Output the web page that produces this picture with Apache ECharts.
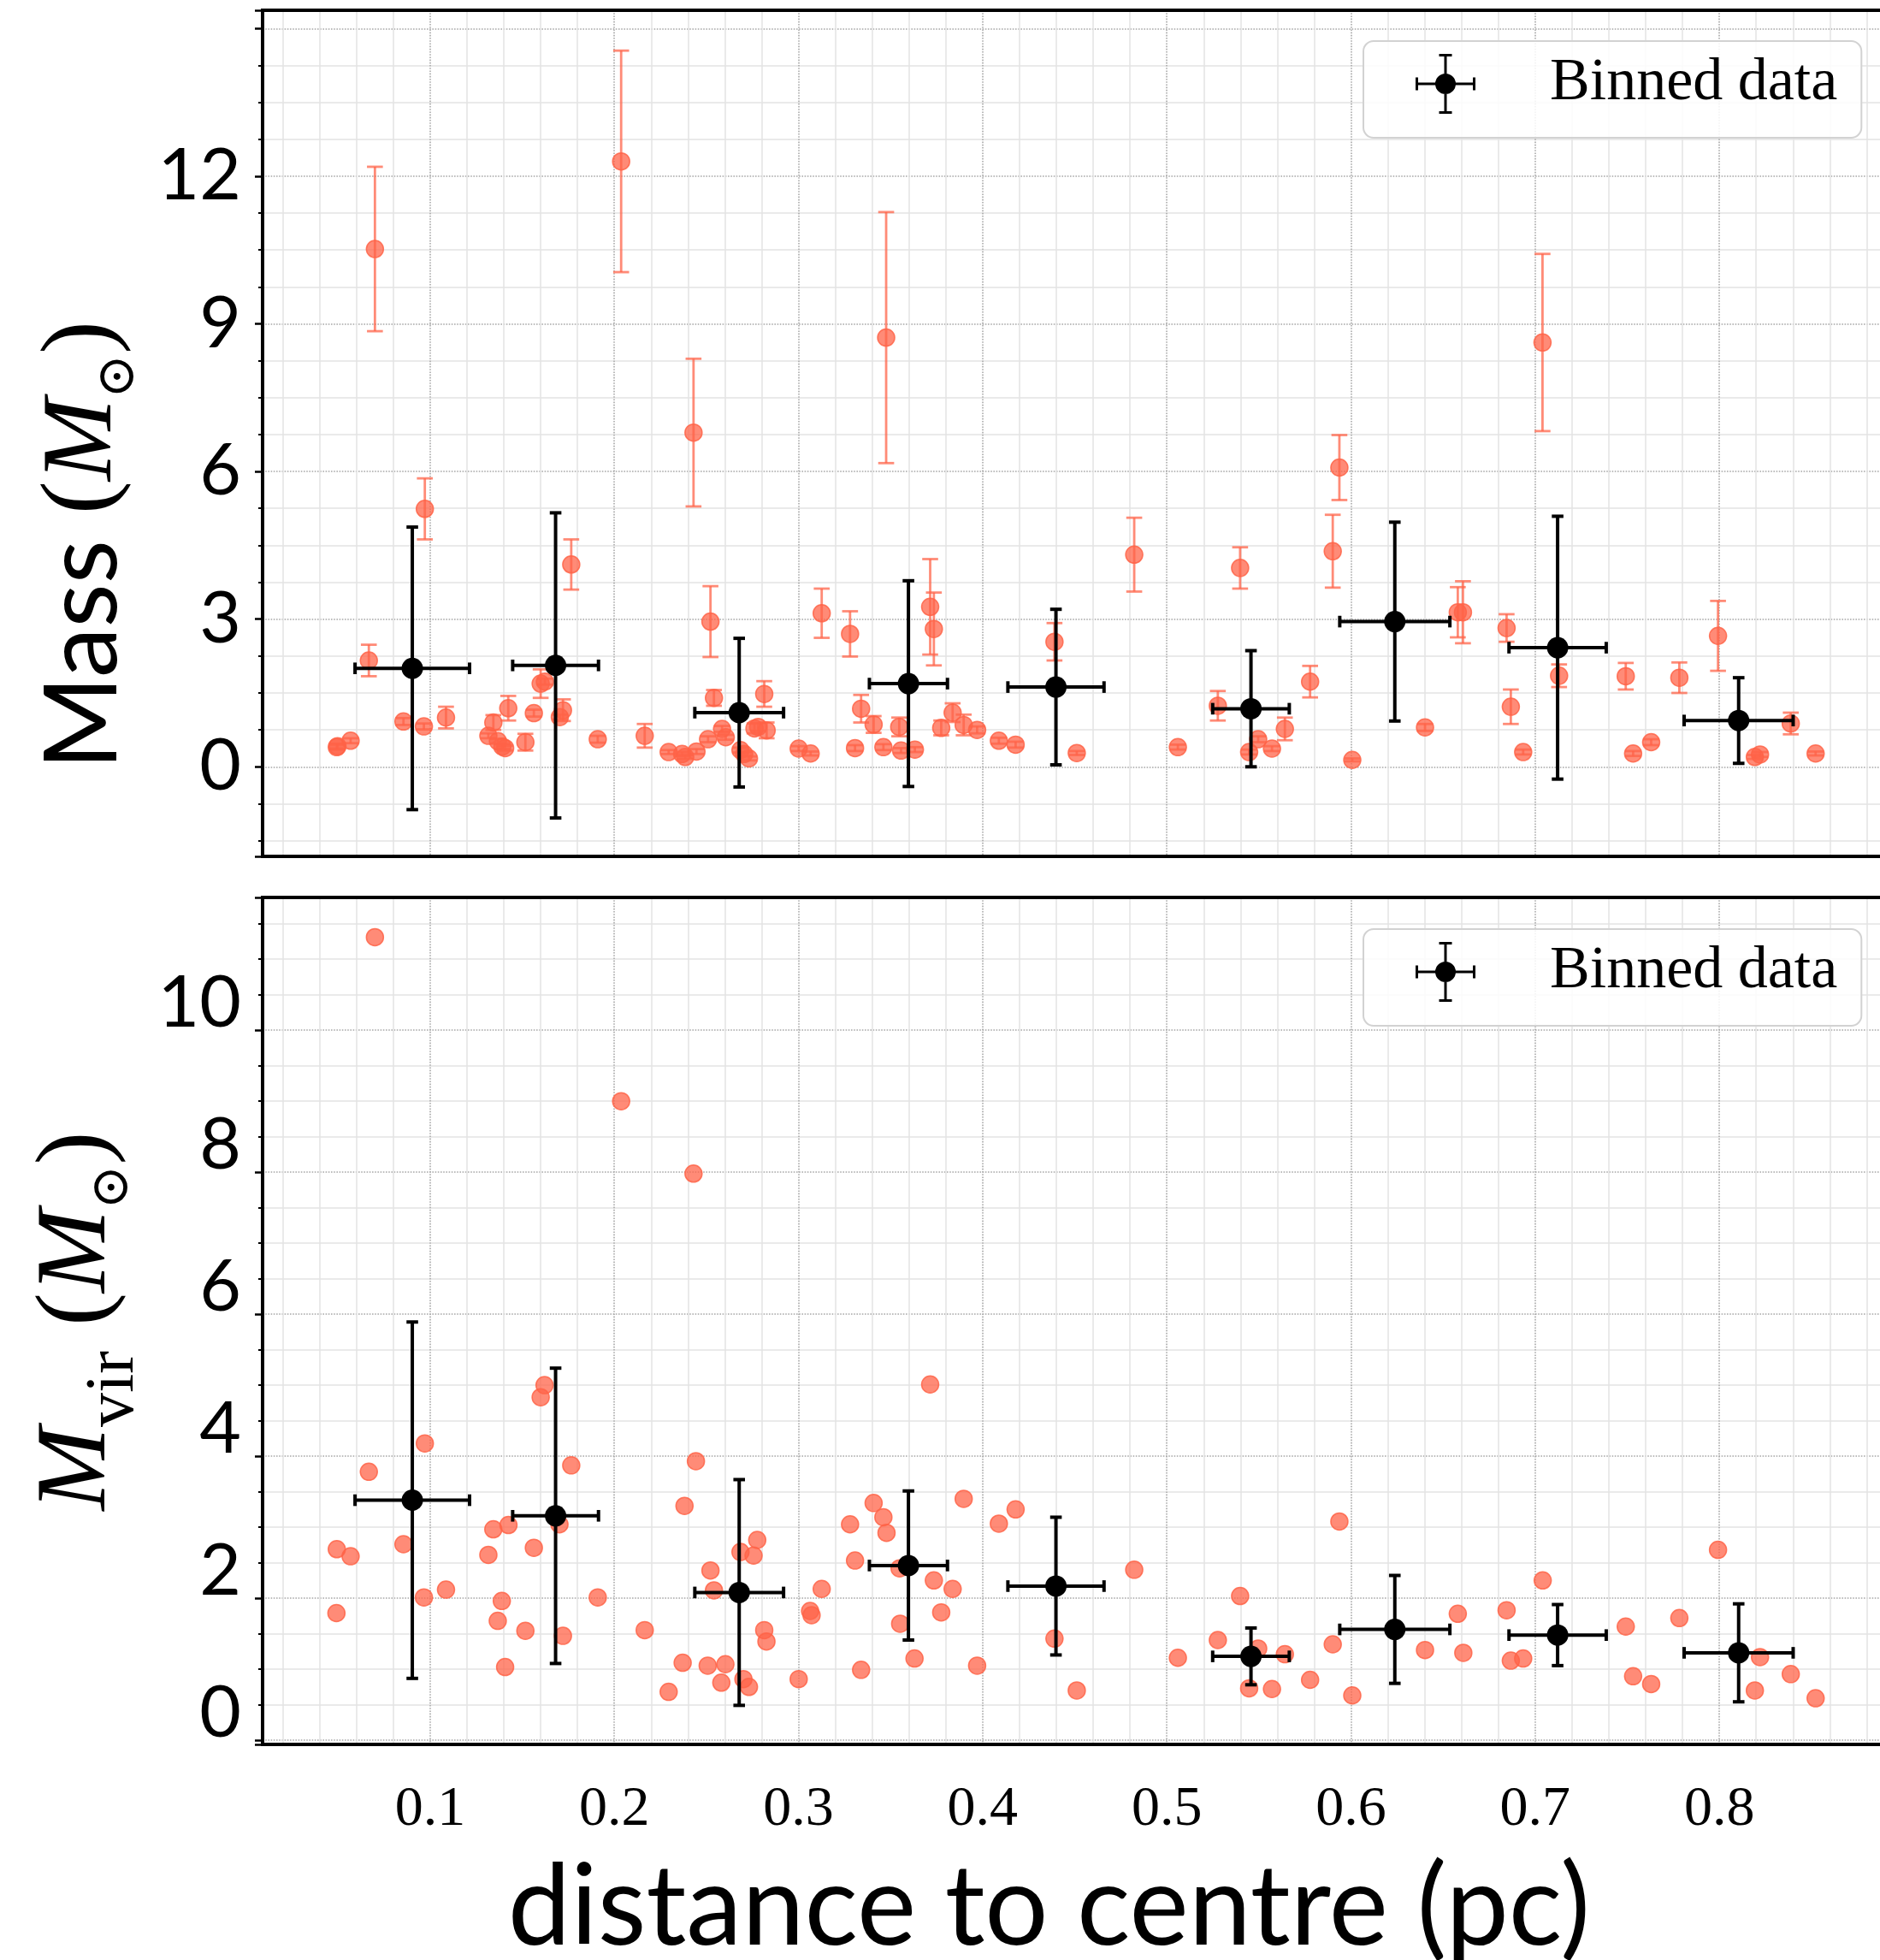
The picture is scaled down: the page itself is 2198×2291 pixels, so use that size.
<!DOCTYPE html>
<html><head><meta charset="utf-8">
<script src="https://cdn.jsdelivr.net/npm/echarts@6/dist/echarts.min.js"></script>
<style>html,body{margin:0;padding:0;background:#fff}#c{width:2198px;height:2291px}</style>
</head><body><div id="c"></div>
<script>
// ---------- data ----------
const topX = [0.0493,0.0497,0.0568,0.0667,0.0700,0.0855,0.0966,0.0971,0.1086,0.1316,
  0.1343,0.1368,0.1392,0.1407,0.1424,0.1517,0.1563,0.1600,0.1623,0.1704,
  0.1721,0.1766,0.1910,0.2037,0.2165,0.2295,0.2368,0.2385,0.2430,0.2446,
  0.2509,0.2522,0.2541,0.2585,0.2605,0.2685,0.2705,0.2731,0.2761,0.2781,
  0.2814,0.2827,0.3001,0.3066,0.3126,0.3280,0.3307,0.3340,0.3408,0.3461,
  0.3476,0.3547,0.3557,0.3632,0.3715,0.3735,0.3775,0.3837,0.3897,0.3970,
  0.4088,0.4179,0.4390,0.4511,0.4823,0.5060,0.5277,0.5398,0.5447,0.5496,
  0.5571,0.5641,0.5778,0.5901,0.5937,0.6007,0.6402,0.6580,0.6608,0.6845,
  0.6868,0.6935,0.7040,0.7130,0.7492,0.7532,0.7630,0.7783,0.7993,0.8193,
  0.8221,0.8388,0.8523];
const topMass = [0.40,0.42,0.53,2.16,10.52,0.92,0.82,5.24,1.00,0.63,
  0.90,0.52,0.41,0.38,1.19,0.50,1.09,1.69,1.73,1.01,
  1.15,4.11,0.56,12.30,0.63,0.30,0.26,0.20,6.79,0.31,
  0.56,2.95,1.40,0.77,0.60,0.34,0.26,0.17,0.78,0.81,
  1.48,0.74,0.37,0.27,3.12,2.70,0.38,1.18,0.86,0.40,
  8.72,0.81,0.33,0.35,3.25,2.80,0.79,1.10,0.85,0.75,
  0.53,0.45,2.54,0.28,4.31,0.40,1.24,4.04,0.30,0.56,
  0.37,0.77,1.73,4.38,6.08,0.14,0.80,3.14,3.14,2.82,
  1.22,0.30,8.62,1.85,1.84,0.27,0.50,1.81,2.66,0.20,
  0.25,0.88,0.27];
const topMassErr = [0.05,0.05,0.05,0.32,1.67,0.07,0.06,0.62,0.22,0.05,
  0.15,0.05,0.05,0.05,0.25,0.17,0.07,0.29,0.06,0.05,
  0.22,0.51,0.07,2.25,0.24,0.04,0.04,0.04,1.50,0.05,
  0.06,0.72,0.16,0.06,0.05,0.05,0.04,0.04,0.10,0.08,
  0.26,0.16,0.05,0.04,0.50,0.46,0.06,0.28,0.17,0.06,
  2.55,0.19,0.05,0.05,0.97,0.74,0.15,0.19,0.21,0.07,
  0.06,0.06,0.38,0.04,0.75,0.05,0.30,0.42,0.05,0.06,
  0.05,0.23,0.32,0.74,0.66,0.03,0.07,0.51,0.63,0.28,
  0.35,0.05,1.80,0.23,0.27,0.05,0.06,0.31,0.71,0.04,
  0.05,0.22,0.04];

const botX = [0.0491,0.0493,0.0568,0.0667,0.0700,0.0855,0.0966,0.0971,0.1086,0.1316,
  0.1343,0.1367,0.1389,0.1407,0.1425,0.1517,0.1563,0.1600,0.1621,0.1702,
  0.1721,0.1766,0.1910,0.2037,0.2165,0.2295,0.2371,0.2381,0.2430,0.2443,
  0.2507,0.2522,0.2541,0.2581,0.2603,0.2685,0.2701,0.2731,0.2756,0.2776,
  0.2814,0.2826,0.3001,0.3063,0.3071,0.3126,0.3280,0.3307,0.3340,0.3408,
  0.3461,0.3478,0.3549,0.3552,0.3630,0.3715,0.3735,0.3775,0.3837,0.3897,
  0.3970,0.4088,0.4179,0.4390,0.4511,0.4823,0.5060,0.5277,0.5398,0.5447,
  0.5496,0.5571,0.5641,0.5778,0.5901,0.5937,0.6007,0.6402,0.6580,0.6610,
  0.6845,0.6868,0.6935,0.7041,0.7492,0.7532,0.7630,0.7783,0.7993,0.8193,
  0.8221,0.8388,0.8523];
const botMvir = [1.79,2.69,2.59,3.78,11.31,2.76,2.01,4.18,2.12,2.61,
  2.97,1.68,1.96,1.03,3.03,1.54,2.71,4.83,5.00,3.04,
  1.47,3.87,2.01,9.00,1.55,0.68,1.09,3.30,7.98,3.93,
  1.05,2.39,2.11,0.81,1.07,2.65,0.86,0.75,2.60,2.82,
  1.55,1.39,0.86,1.82,1.76,2.13,3.04,2.53,0.99,3.34,
  3.14,2.92,2.42,1.64,1.15,5.01,2.25,1.80,2.13,3.40,
  1.05,3.05,3.25,1.43,0.70,2.40,1.16,1.41,2.03,0.73,
  1.29,0.72,1.21,0.85,1.35,3.08,0.63,1.27,1.78,1.23,
  1.83,1.12,1.15,2.25,1.60,0.90,0.79,1.72,2.68,0.70,
  1.17,0.93,0.59];

const binX       = [0.0903,0.1681,0.2678,0.3597,0.4398,0.5457,0.6238,0.7122,0.8105];
const binXErr    = [0.0311,0.0233,0.0241,0.0212,0.0261,0.0208,0.0299,0.0264,0.0296];
const binMass    = [2.00,2.06,1.10,1.69,1.62,1.18,2.95,2.42,0.94];
const binMassErr = [2.87,3.10,1.51,2.09,1.58,1.18,2.02,2.67,0.87];
const binMvir    = [3.38,3.16,2.08,2.46,2.17,1.18,1.56,1.48,1.23];
const binMvirErr = [2.51,2.08,1.59,1.05,0.97,0.40,0.76,0.43,0.69];

const xTickLabels   = ['0.1','0.2','0.3','0.4','0.5','0.6','0.7','0.8'];
const topTickLabels = ['0','3','6','9','12'];
const botTickLabels = ['0','2','4','6','8','10'];

// ---------- styling ----------
const RED = 'rgba(255,99,71,0.74)';
const RED_EDGE = 'rgba(255,99,71,0.85)';
const X_MIN = 0.009, X_MAX = 0.8919;

function line(x1,y1,x2,y2,st){return {type:'line',shape:{x1,y1,x2,y2},style:st};}
function redErr(params, api){
  const x=api.value(0), y=api.value(1), e=api.value(2);
  const b=api.coord([x,y-e]), t=api.coord([x,y+e]);
  const st={stroke:RED,lineWidth:2.8}; const c=9.3;
  return {type:'group',children:[
    line(b[0],b[1],t[0],t[1],st),
    line(b[0]-c,b[1],b[0]+c,b[1],st),
    line(t[0]-c,t[1],t[0]+c,t[1],st)]};
}
function binErr(params, api){
  const x=api.value(0), y=api.value(1), xe=api.value(2), ye=api.value(3);
  const l=api.coord([x-xe,y]), r=api.coord([x+xe,y]);
  const b=api.coord([x,y-ye]), t=api.coord([x,y+ye]);
  const st={stroke:'#000',lineWidth:4}; const c=6.8;
  return {type:'group',children:[
    line(l[0],l[1],r[0],r[1],st), line(b[0],b[1],t[0],t[1],st),
    line(l[0],l[1]-c,l[0],l[1]+c,st), line(r[0],r[1]-c,r[0],r[1]+c,st),
    line(t[0]-c,t[1],t[0]+c,t[1],st), line(b[0]-c,b[1],b[0]+c,b[1],st)]};
}

function fmtFrom(list){
  return function(v){
    for (const s of list){ if (Math.abs(parseFloat(s)-v) < 1e-6) return s; }
    return '';
  };
}

const majorSplit = {show:true, showMinLine:false, showMaxLine:false,
  lineStyle:{type:'dotted', color:'#a8a8a8', width:1.6}};
const minorSplit = {show:true, lineStyle:{color:'#e3e3e3', width:1.5}};

function xAxisDef(gi, showLabels){
  return {type:'value', gridIndex:gi, min:X_MIN, max:X_MAX, splitNumber:8,
    axisLine:{show:false, onZero:false}, axisTick:{show:false},
    minorTick:{show:false, splitNumber:5},
    splitLine:majorSplit, minorSplitLine:minorSplit,
    axisLabel:{show:showLabels, fontFamily:'Liberation Serif', fontSize:66, color:'#000',
      margin:44, formatter: fmtFrom(xTickLabels)}};
}
function yAxisDef(gi, min, max, labels, extraLabel){
  return {type:'value', gridIndex:gi, min, max, splitNumber:5,
    axisLine:{show:false, onZero:false},
    axisTick:{show:true, length:9, lineStyle:{color:'#000', width:2.5}},
    minorTick:{show:true, splitNumber:4, length:5, lineStyle:{color:'#000', width:2}},
    splitLine:majorSplit, minorSplitLine:minorSplit,
    axisLabel:Object.assign({fontFamily:'Lato', fontSize:84, color:'#000', margin:25,
      formatter: fmtFrom(labels)}, extraLabel||{})};
}

const ICON = 'path://M0,33.5H70V36.5H0Z M33.5,0H36.5V70H33.5Z M0,27.5H3V42.5H0Z M67,27.5H70V42.5H67Z M27.5,0H42.5V3H27.5Z M27.5,67H42.5V70H27.5Z M23,35A12,12,0,1,1,47,35A12,12,0,1,1,23,35Z';
function legendDef(top){
  return {data:['Binned data'], left:1594, top, orient:'horizontal', icon:ICON,
    itemWidth:70, itemHeight:70, padding:[8,28,21,61],
    backgroundColor:'rgba(255,255,255,0.85)', borderColor:'#d2d2d2', borderWidth:2, borderRadius:12,
    selectedMode:false,
    textStyle:{fontFamily:'Liberation Serif', fontSize:70, lineHeight:70, color:'#000', padding:[14,0,0,82]}};
}

const gridStyle = {show:true, borderColor:'#000', borderWidth:4, z:10, backgroundColor:'rgba(0,0,0,0)',
  outerBoundsMode:'none', containLabel:false};

const topY = yAxisDef(0, -1.82, 15.37, topTickLabels);
topY.name = '{s|Mass }{p|(}{m|M}{sub|⊙}{p|)}';
topY.nameLocation = 'middle'; topY.nameRotate = 90; topY.nameGap = 136;
topY.nameTextStyle = {color:'#000', padding:[0,262,0,0], rich:{
  s:{fontFamily:'Lato', fontSize:118, lineHeight:146, color:'#000'},
  p:{fontFamily:'Liberation Serif', fontSize:116, lineHeight:146, color:'#000'},
  m:{fontFamily:'Liberation Serif', fontStyle:'italic', fontSize:116, lineHeight:146, color:'#000'},
  sub:{fontFamily:'DejaVu Serif', fontSize:62, lineHeight:62, verticalAlign:'bottom', color:'#000'}}};

const botY = yAxisDef(1, -0.06, 11.87, botTickLabels, {verticalAlign:'bottom', lineHeight:62});
botY.name = '{m|M}{v|vir}{p| (}{m|M}{sub|⊙}{p|)}';
botY.nameLocation = 'middle'; botY.nameRotate = 90; botY.nameGap = 131;
botY.nameTextStyle = {color:'#000', rich:{
  m:{fontFamily:'Liberation Serif', fontStyle:'italic', fontSize:117, lineHeight:164, color:'#000'},
  v:{fontFamily:'Liberation Serif', fontSize:80, lineHeight:80, verticalAlign:'bottom', color:'#000'},
  p:{fontFamily:'Liberation Serif', fontSize:117, lineHeight:164, color:'#000'},
  sub:{fontFamily:'DejaVu Serif', fontSize:62, lineHeight:62, padding:[0,0,10,0], verticalAlign:'bottom', color:'#000'}}};

const botXAxis = xAxisDef(1, true);
botXAxis.name = 'distance to centre (pc)';
botXAxis.nameLocation = 'middle'; botXAxis.nameGap = 126;
botXAxis.nameTextStyle = {fontFamily:'Lato', fontSize:131, color:'#000', padding:[0,62,0,0]};

const option = {
  animation:false,
  backgroundColor:'#fff',
  textStyle:{fontFamily:'Lato'},
  grid:[Object.assign({left:307, top:12, width:1901, height:989}, gridStyle),
        Object.assign({left:307, top:1049, width:1901, height:990}, gridStyle)],
  legend:[legendDef(48), legendDef(1086)],
  xAxis:[xAxisDef(0,false), botXAxis],
  yAxis:[topY, botY],
  series:[
    {type:'custom', name:'mass err', xAxisIndex:0, yAxisIndex:0, z:2, renderItem:redErr,
      encode:{x:0,y:1}, data: topX.map((x,i)=>[x, topMass[i], topMassErr[i]])},
    {type:'scatter', name:'mass', xAxisIndex:0, yAxisIndex:0, z:3, symbolSize:20,
      itemStyle:{color:RED, borderColor:RED_EDGE, borderWidth:1.5, opacity:1},
      data: topX.map((x,i)=>[x, topMass[i]])},
    {type:'custom', name:'bin err top', xAxisIndex:0, yAxisIndex:0, z:4, renderItem:binErr,
      encode:{x:0,y:1}, data: binX.map((x,i)=>[x, binMass[i], binXErr[i], binMassErr[i]])},
    {type:'scatter', name:'Binned data', xAxisIndex:0, yAxisIndex:0, z:5, symbolSize:25,
      itemStyle:{color:'#000', opacity:1}, data: binX.map((x,i)=>[x, binMass[i]])},

    {type:'scatter', name:'mvir', xAxisIndex:1, yAxisIndex:1, z:3, symbolSize:20,
      itemStyle:{color:RED, borderColor:RED_EDGE, borderWidth:1.5, opacity:1},
      data: botX.map((x,i)=>[x, botMvir[i]])},
    {type:'custom', name:'bin err bot', xAxisIndex:1, yAxisIndex:1, z:4, renderItem:binErr,
      encode:{x:0,y:1}, data: binX.map((x,i)=>[x, binMvir[i], binXErr[i], binMvirErr[i]])},
    {type:'scatter', name:'Binned data', xAxisIndex:1, yAxisIndex:1, z:5, symbolSize:25,
      itemStyle:{color:'#000', opacity:1}, data: binX.map((x,i)=>[x, binMvir[i]])}
  ]
};
const chart = echarts.init(document.getElementById('c'), null, {renderer:'canvas', width:2198, height:2291});
chart.setOption(option);
</script></body></html>
